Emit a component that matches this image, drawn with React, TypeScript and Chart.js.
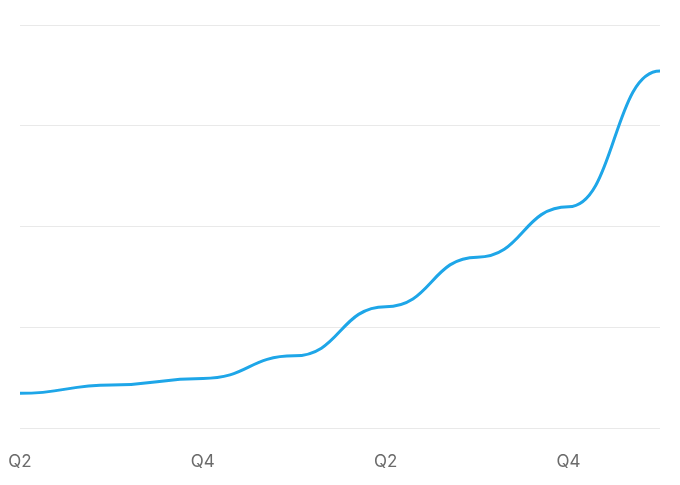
import React, { useEffect, useRef } from "react";
import { Chart, registerables } from "chart.js";

Chart.register(...registerables);

const quarters = ["Q2", "Q3", "Q4", "Q1", "Q2", "Q3", "Q4", "Q1"];
const values = [8.6, 10.7, 12.3, 17.9, 30.1, 42.4, 54.9, 88.6];
const yMin = 0;
const yMax = 100;
const yStep = 25;

const bumpPlugin = {
  id: "bumpCurve",
  beforeDatasetsDraw(chart: any) {
    chart.data.datasets.forEach((_: any, i: number) => {
      const meta = chart.getDatasetMeta(i);
      const line: any = meta.dataset;
      if (!line) return;
      line.updateControlPoints(chart.chartArea, "x");
      const pts: any[] = meta.data;
      for (let k = 0; k < pts.length; k++) {
        const p = pts[k];
        const prev = pts[k - 1];
        const next = pts[k + 1];
        if (prev) {
          p.cp1x = (prev.x + p.x) / 2;
          p.cp1y = p.y;
        }
        if (next) {
          p.cp2x = (p.x + next.x) / 2;
          p.cp2y = p.y;
        }
      }
    });
  },
};

export default function App() {
  const ref = useRef<HTMLCanvasElement | null>(null);

  useEffect(() => {
    if (!ref.current) return;
    const chart = new Chart(ref.current, {
      type: "line",
      data: {
        labels: quarters,
        datasets: [
          {
            data: values,
            borderColor: "#1ea6e8",
            borderWidth: 3,
            pointRadius: 0,
            pointHoverRadius: 0,
            tension: 0.4,
            fill: false,
          },
        ],
      },
      plugins: [bumpPlugin],
      options: {
        animation: false,
        responsive: true,
        maintainAspectRatio: false,
        layout: { padding: { left: 20, right: 20, top: 25, bottom: 17 } },
        plugins: {
          legend: { display: false },
          tooltip: { enabled: false },
        },
        scales: {
          x: {
            offset: false,
            grid: { display: false, drawTicks: false },
            border: { display: false },
            ticks: {
              color: "#6b6b6b",
              font: { family: "Inter", size: 17 },
              padding: 24,
              autoSkip: false,
              maxRotation: 0,
              callback: (_v: any, i: number) => (i % 2 === 0 ? quarters[i] : ""),
            },
            afterFit: (s: any) => {
              s.height = 40;
              s.paddingLeft = 0;
              s.paddingRight = 0;
              s.paddingTop = 0;
              s.paddingBottom = 0;
            },
          },
          y: {
            min: yMin,
            max: yMax,
            grid: { color: "#e9e9e9", lineWidth: 1, drawTicks: false },
            border: { display: false },
            ticks: { display: false, stepSize: yStep },
            afterFit: (s: any) => {
              s.width = 0;
              s.paddingTop = 0;
              s.paddingBottom = 0;
            },
          },
        },
      },
    });
    return () => chart.destroy();
  }, []);

  return (
    <div style={{ position: "fixed", left: 0, top: 0, width: 680, height: 485, background: "#fff" }}>
      <canvas ref={ref} />
    </div>
  );
}
